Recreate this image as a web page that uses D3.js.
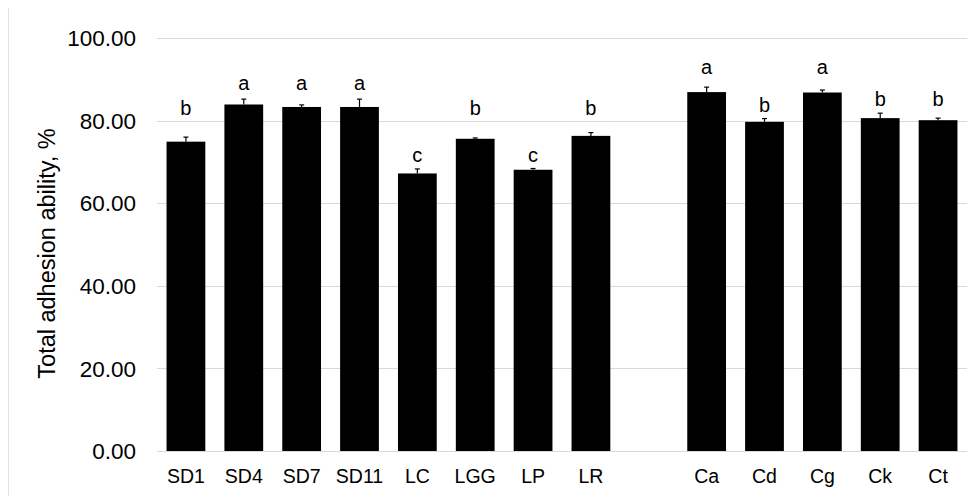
<!DOCTYPE html>
<html>
<head>
<meta charset="utf-8">
<script src="https://cdn.jsdelivr.net/npm/d3@7"></script>
<style>
  html, body { margin: 0; padding: 0; background: #fff; }
  #chart { width: 976px; height: 496px; }
  text { font-family: "Liberation Sans", Arial, sans-serif; fill: #000; }
</style>
</head>
<body>
<div id="chart"></div>
<script>
// strains in the two groups (an empty slot sits between them)
const strainsA = ['SD1', 'SD4', 'SD7', 'SD11', 'LC', 'LGG', 'LP', 'LR'];
const strainsB = ['Ca', 'Cd', 'Cg', 'Ck', 'Ct'];

// mean total adhesion ability (%) and standard error
const meansA = [74.9, 83.9, 83.3, 83.3, 67.2, 75.6, 68.1, 76.3];
const errorsA = [1.1, 1.3, 0.5, 1.9, 1.1, 0.2, 0.3, 0.8];
const meansB = [86.9, 79.7, 86.8, 80.6, 80.1];
const errorsB = [1.2, 0.8, 0.6, 1.2, 0.5];

// significance letters and the height (in %) they sit at
const lettersA = ['b', 'a', 'a', 'a', 'c', 'b', 'c', 'b'];
const letterPosA = [83.1, 89.2, 89.2, 89.2, 71.8, 83.1, 71.7, 83.1];
const lettersB = ['a', 'b', 'a', 'b', 'b'];
const letterPosB = [93.0, 83.9, 93.0, 85.2, 85.2];

const yTicks = [0, 20, 40, 60, 80, 100];

const GAP = '__gap__';

const rows = strainsA.map((s, i) => ({ name: s, mean: meansA[i], err: errorsA[i], letter: lettersA[i], lpos: letterPosA[i] }))
    .concat(strainsB.map((s, i) => ({ name: s, mean: meansB[i], err: errorsB[i], letter: lettersB[i], lpos: letterPosB[i] })));

const domain = strainsA.concat([GAP], strainsB);

const w = 976, h = 496;
const margin = { top: 38, right: 9, bottom: 45, left: 157 };

const svg = d3.select('#chart')
    .append('svg')
    .attr('width', w)
    .attr('height', h);

// faint frame line at the left edge
svg.append('line')
    .attr('x1', 8.5).attr('x2', 8.5)
    .attr('y1', 8).attr('y2', h)
    .attr('stroke', '#e4e4e4')
    .attr('stroke-width', 1);

const x = d3.scaleBand()
    .domain(domain)
    .range([margin.left, w - margin.right])
    .paddingInner(0.33)
    .paddingOuter(0.165);

const y = d3.scaleLinear()
    .domain([0, 100])
    .range([h - margin.bottom, margin.top]);

// gridlines
svg.append('g')
    .selectAll('line')
    .data(yTicks)
    .join('line')
    .attr('x1', margin.left)
    .attr('x2', w - margin.right)
    .attr('y1', d => Math.round(y(d)) + 0.5)
    .attr('y2', d => Math.round(y(d)) + 0.5)
    .attr('stroke', '#d9d9d9')
    .attr('stroke-width', 1.2);

// y tick labels
svg.append('g')
    .selectAll('text')
    .data(yTicks)
    .join('text')
    .attr('x', 136)
    .attr('y', d => y(d))
    .attr('dy', '0.36em')
    .attr('text-anchor', 'end')
    .style('font-size', '22.5px')
    .text(d => d3.format('.2f')(d));

// y axis title
svg.append('text')
    .attr('transform', `translate(55, ${(y(0) + y(100)) / 2 + 9}) rotate(-90)`)
    .attr('text-anchor', 'middle')
    .style('font-size', '23.5px')
    .text('Total adhesion ability, %');

// bars
svg.append('g')
    .selectAll('rect')
    .data(rows)
    .join('rect')
    .attr('x', d => x(d.name))
    .attr('y', d => y(d.mean))
    .attr('width', x.bandwidth())
    .attr('height', d => y(0) - y(d.mean))
    .attr('fill', '#000');

// error bars (upper only)
const eb = svg.append('g')
    .selectAll('g')
    .data(rows)
    .join('g')
    .attr('stroke', '#000')
    .attr('stroke-width', 1.2);

eb.append('line')
    .attr('x1', d => x(d.name) + x.bandwidth() / 2)
    .attr('x2', d => x(d.name) + x.bandwidth() / 2)
    .attr('y1', d => y(d.mean))
    .attr('y2', d => y(d.mean + d.err));

eb.append('line')
    .attr('x1', d => x(d.name) + x.bandwidth() / 2 - 2.5)
    .attr('x2', d => x(d.name) + x.bandwidth() / 2 + 2.5)
    .attr('y1', d => y(d.mean + d.err))
    .attr('y2', d => y(d.mean + d.err));

// significance letters
svg.append('g')
    .selectAll('text')
    .data(rows)
    .join('text')
    .attr('x', d => x(d.name) + x.bandwidth() / 2)
    .attr('y', d => y(d.lpos))
    .attr('dy', '0.36em')
    .attr('text-anchor', 'middle')
    .style('font-size', '20px')
    .text(d => d.letter);

// category labels
svg.append('g')
    .selectAll('text')
    .data(rows)
    .join('text')
    .attr('x', d => x(d.name) + x.bandwidth() / 2)
    .attr('y', 483)
    .attr('text-anchor', 'middle')
    .style('font-size', '19.5px')
    .text(d => d.name);
</script>
</body>
</html>
